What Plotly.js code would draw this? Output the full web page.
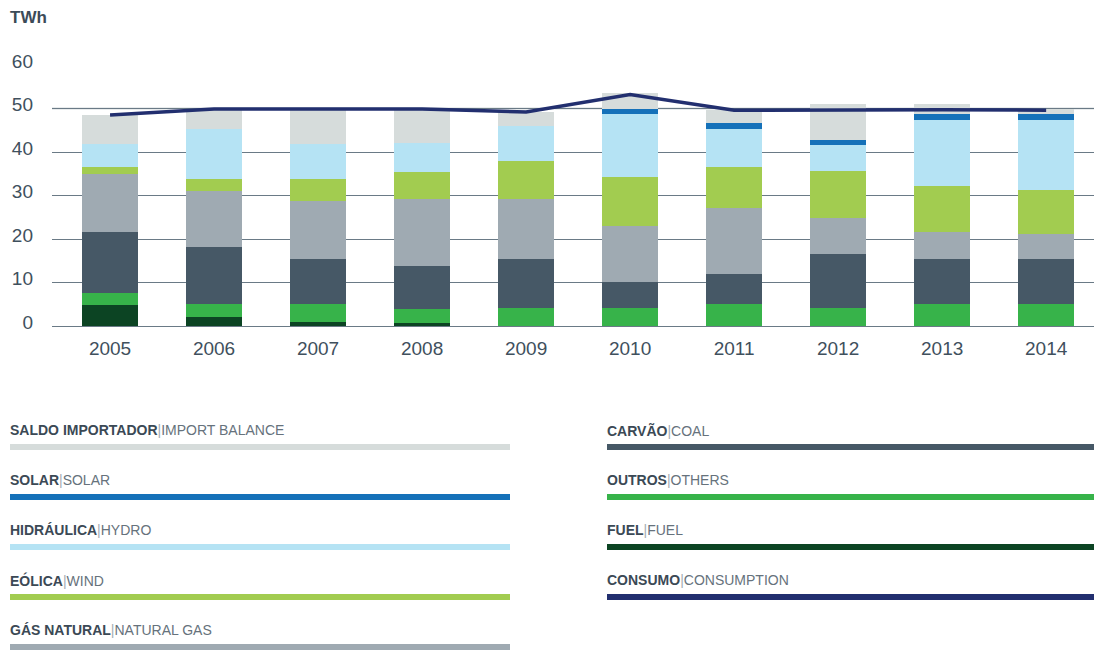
<!DOCTYPE html>
<html>
<head>
<meta charset="utf-8">
<script src="https://cdn.plot.ly/plotly-3.0.1.min.js"></script>
<style>
  html, body { margin: 0; padding: 0; background: #ffffff; }
  #chart { width: 1094px; height: 650px; }
</style>
</head>
<body>
<div id="chart"></div>
<script>
// ---- Data (TWh) ----
const years = ['2005', '2006', '2007', '2008', '2009', '2010', '2011', '2012', '2013', '2014'];
const fuel        = [4.8, 2.0, 1.0, 0.8, 0.0, 0.0, 0.0, 0.0, 0.0, 0.0];
const others      = [2.9, 3.0, 4.0, 3.1, 4.1, 4.1, 5.1, 4.1, 5.1, 5.1];
const coal        = [13.8, 13.1, 10.4, 9.8, 11.3, 6.1, 6.8, 12.5, 10.3, 10.3];
const naturalGas  = [13.5, 12.9, 13.3, 15.4, 13.7, 12.9, 15.3, 8.2, 6.1, 5.7];
const wind        = [1.6, 2.7, 5.0, 6.4, 8.8, 11.2, 9.4, 10.9, 10.8, 10.2];
const hydro       = [5.3, 11.7, 8.2, 6.5, 8.1, 14.4, 8.8, 5.8, 15.1, 16.1];
const solar       = [0.0, 0.0, 0.0, 0.0, 0.0, 1.1, 1.3, 1.3, 1.3, 1.3];
const importBal   = [6.6, 4.5, 8.0, 7.7, 3.3, 3.7, 2.9, 8.2, 2.3, 1.1];
const consumption = [48.5, 49.9, 49.9, 49.9, 49.2, 53.2, 49.6, 49.7, 49.7, 49.6];
const yTicks = [0, 10, 20, 30, 40, 50, 60];

const legendPt = ['SALDO IMPORTADOR', 'SOLAR', 'HIDRÁULICA', 'EÓLICA', 'GÁS NATURAL',
                  'CARVÃO', 'OUTROS', 'FUEL', 'CONSUMO'];
const legendEn = ['IMPORT BALANCE', 'SOLAR', 'HYDRO', 'WIND', 'NATURAL GAS',
                  'COAL', 'OTHERS', 'FUEL', 'CONSUMPTION'];

// ---- Styles ----
const colors = {
  fuel: '#0c4423', others: '#37b34a', coal: '#465866', gas: '#9faab2',
  wind: '#a2cc50', hydro: '#b5e3f4', solar: '#1571b9', importBal: '#d6dcdb',
  consumption: '#222f6f'
};
const legendColors = [colors.importBal, colors.solar, colors.hydro, colors.wind, colors.gas,
                      colors.coal, colors.others, colors.fuel, colors.consumption];

const stack = [
  ['FUEL', fuel, colors.fuel],
  ['OUTROS', others, colors.others],
  ['CARVÃO', coal, colors.coal],
  ['GÁS NATURAL', naturalGas, colors.gas],
  ['EÓLICA', wind, colors.wind],
  ['HIDRÁULICA', hydro, colors.hydro],
  ['SOLAR', solar, colors.solar],
  ['SALDO IMPORTADOR', importBal, colors.importBal]
];

const traces = stack.map(([name, vals, col]) => ({
  type: 'bar', name: name, x: years, y: vals,
  marker: { color: col, line: { width: 0 } },
  width: 0.54, showlegend: false, hoverinfo: 'skip'
}));
traces.push({
  type: 'scatter', mode: 'lines', name: 'CONSUMO', x: years, y: consumption,
  line: { color: colors.consumption, width: 3.5 }, showlegend: false, hoverinfo: 'skip'
});

// ---- Layout geometry (pixels) ----
const W = 1094, H = 650;
const mL = 52, mR = 0, mT = 65, mB = 324;
const plotW = W - mL - mR, plotH = H - mT - mB;
const px2x = px => (px - mL) / plotW;
const py2y = py => (H - mB - py) / plotH;

const annotations = [{
  text: '<b>TWh</b>', xref: 'paper', yref: 'paper',
  x: px2x(8), y: py2y(17), xanchor: 'left', yanchor: 'middle', showarrow: false,
  font: { family: 'Liberation Sans, Arial, sans-serif', size: 17, color: '#3c4b58' }
}];
const shapes = [{
  type: 'line', xref: 'paper', yref: 'y', layer: 'between',
  x0: 0, x1: 1, y0: 50, y1: 50,
  line: { color: '#d3d9dc', width: 2 }
}];

legendPt.forEach((pt, i) => {
  const col = i < 5 ? 0 : 1;
  const row = i < 5 ? i : i - 5;
  const x0 = col === 0 ? 10 : 607;
  const x1 = col === 0 ? 510 : 1094;
  const ty = 430 + row * 50;
  const by = 447 + row * 50;
  annotations.push({
    text: '<b><span style="color:#3b4955">' + pt + '</span></b><span style="color:#a3acb3">|</span>' + legendEn[i],
    xref: 'paper', yref: 'paper', x: px2x(x0 - 2), y: py2y(ty),
    xanchor: 'left', yanchor: 'middle', showarrow: false,
    font: { family: 'Liberation Sans, Arial, sans-serif', size: 14, color: '#66727c' }
  });
  shapes.push({
    type: 'rect', xref: 'paper', yref: 'paper',
    x0: px2x(x0), x1: px2x(x1), y0: py2y(by - 3), y1: py2y(by + 3),
    fillcolor: legendColors[i], line: { width: 0 }
  });
});

const layout = {
  width: W, height: H,
  margin: { l: mL, r: mR, t: mT, b: mB, pad: 0 },
  paper_bgcolor: '#ffffff', plot_bgcolor: '#ffffff',
  barmode: 'stack', bargap: 0.46,
  showlegend: false,
  font: { family: 'Liberation Sans, Arial, sans-serif', color: '#4a5b68' },
  xaxis: {
    type: 'category', range: [-0.558, 9.46],
    showgrid: false, zeroline: false, showline: false, ticks: '',
    ticklabelstandoff: 9,
    tickfont: { size: 19, color: '#3f505d' }, fixedrange: true
  },
  yaxis: {
    range: [0, 60], tickvals: yTicks, ticktext: yTicks.map(String),
    showgrid: true, gridcolor: '#6a7a86', gridwidth: 1,
    zeroline: true, zerolinecolor: '#6a7a86', zerolinewidth: 1,
    showline: false, ticks: '', ticklabelstandoff: 18, ticklabelshift: -4,
    tickfont: { size: 19, color: '#3f505d' }, fixedrange: true
  },
  annotations: annotations,
  shapes: shapes
};

Plotly.newPlot('chart', traces, layout, { displayModeBar: false, staticPlot: true });
</script>
</body>
</html>
